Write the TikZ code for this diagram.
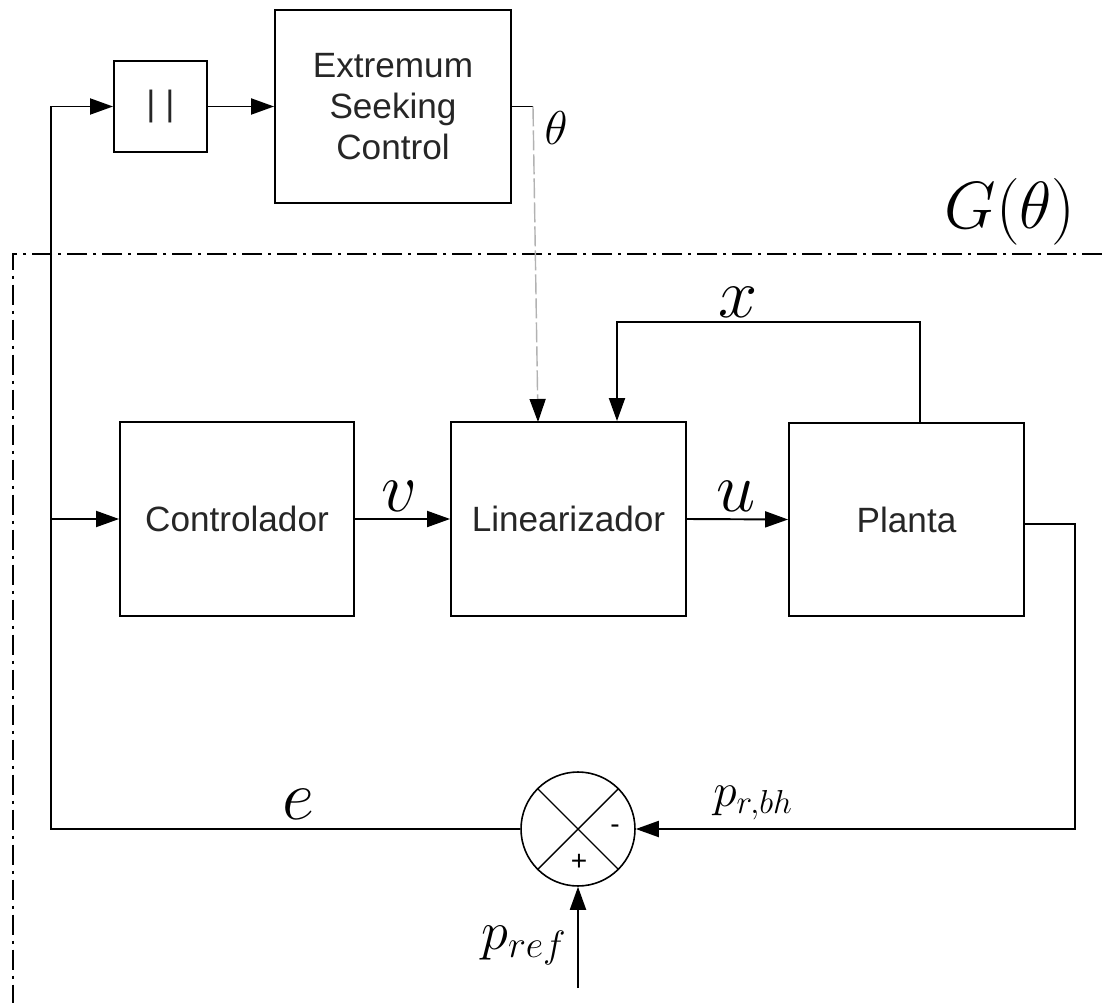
\RequirePackage{fix-cm}
\documentclass[tikz,border=0pt]{standalone}
\usepackage{fontspec}
\setsansfont{Liberation Sans}
\usetikzlibrary{arrows.meta}
\begin{document}
\begin{tikzpicture}[x=0.02cm,y=-0.02cm,
  blk/.style={draw, line width=1.1pt, inner sep=0pt, font=\fontsize{20}{23.3}\selectfont\sffamily, text=black!85, align=center},
  tip/.style={-{Triangle[length=0.46cm,width=0.32cm,black]}},
  wire/.style={line width=1.1pt},
  conn/.style={wire, tip},
  graydash/.style={line width=0.8pt, draw=black!30, dash pattern=on 0.4cm off 0.08cm},
  dashdotb/.style={line width=1.1pt, dash pattern=on 0.4cm off 0.12cm on 0.06cm off 0.12cm},
  mlbl/.style={inner sep=0pt, font=\fontsize{40}{48}\selectfont},
  sgn/.style={inner sep=0pt, font=\fontsize{16}{16}\selectfont\sffamily}
]
\fill[white] (0,0) rectangle (1102,1003);
\useasboundingbox (0,0) rectangle (1102,1003);

% boundary of G(theta)
\draw[dashdotb] (1102,254) -- (13,254) -- (13,1003);

% blocks
\node[blk, minimum width=1.86cm, minimum height=1.82cm] (abs) at (160.5,106.5) {| |};
\node[blk, minimum width=4.72cm, minimum height=3.86cm] (esc) at (393,106.5) {Extremum\\Seeking\\Control};
\node[blk, minimum width=4.68cm, minimum height=3.88cm] (ctrl) at (237,519) {Controlador};
\node[blk, minimum width=4.70cm, minimum height=3.88cm] (lin) at (568.5,519) {Linearizador};
\node[blk, minimum width=4.70cm, minimum height=3.86cm] (plant) at (906.5,519.5) {Planta};

% summing junction
\node[draw, circle, line width=0.9pt, minimum size=2.28cm, inner sep=0pt] (sum) at (578,829) {};
\draw[line width=0.8pt] (sum.135) -- (sum.-45);
\draw[line width=0.8pt] (sum.45) -- (sum.-135);
\node[sgn] (minus) at (615,829) {-};
\node[sgn] (plus) at (579,862) {+};

% coordinates
\coordinate (eL) at (51,829);
\coordinate (th1) at (533,106.5);
\coordinate (thE) at (538,422);
\coordinate (xR) at (920,322);
\coordinate (xL) at (617,322);
\coordinate (pR) at (1075,524);
\coordinate (pin) at (578,988);

% connectors
\draw[conn] (sum.west) -- (eL) |- (abs.west);
\draw[conn] (eL |- ctrl.west) -- (ctrl.west);
\draw[conn] (abs.east) -- (esc.west);
\draw[wire] (esc.east) -- (th1);
\draw[graydash, tip] (th1) -- (thE);
\draw[conn] (plant.north -| xR) -- (xR) -- (xL) -- (xL |- lin.north);
\draw[conn] (ctrl.east) -- (lin.west);
\draw[conn] (lin.east) -- (plant.west);
\draw[conn] (plant.east |- pR) -- (pR) |- (sum.east);
\draw[conn] (pin) -- (sum.south);

% labels
\node[inner sep=0pt, font=\fontsize{27}{30}\selectfont] (lth) at (556,128) {$\theta$};
\node[inner sep=0pt, font=\fontsize{38}{44}\selectfont] (lG) at (1010,212) {$G(\theta)$};
\node[mlbl] (lv) at (399,496) {$v$};
\node[mlbl] (lu) at (736,496) {$u$};
\node[mlbl] (lx) at (738,302) {$x$};
\node[mlbl] (le) at (298,804) {$e$};
\node[inner sep=0pt, anchor=base west, font=\fontsize{27}{30}\selectfont] (lprbh) at (713,806) {$p_{r,bh}$};
\node[inner sep=0pt, anchor=base west, font=\fontsize{31}{34}\selectfont] (lpref) at (481,949) {$p_{ref}$};
\end{tikzpicture}
\end{document}
